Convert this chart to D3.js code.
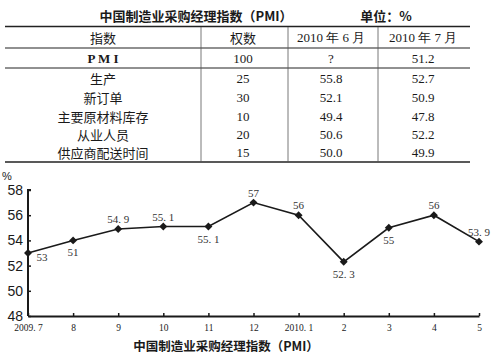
<!DOCTYPE html>
<html><head><meta charset="utf-8">
<script src="https://cdn.jsdelivr.net/npm/d3@7/dist/d3.min.js"></script>
<style>
body{margin:0;background:#fff;}
svg{display:block;}
</style></head>
<body><svg id="c" width="495" height="355"></svg>
<script>
// ---- table data ----
const tableTitle = "中国制造业采购经理指数（PMI）";
const tableUnit = "单位：%";
const tableHeader = ["指数", "权数", "2010 年 6 月", "2010 年 7 月"];
const indexNames = ["P M I", "生产", "新订单", "主要原材料库存", "从业人员", "供应商配送时间"];
const weights = ["100", "25", "30", "10", "20", "15"];
const june2010 = ["?", "55.8", "52.1", "49.4", "50.6", "50.0"];
const july2010 = ["51.2", "52.7", "50.9", "47.8", "52.2", "49.9"];

// ---- chart data ----
const months = ["2009. 7", "8", "9", "10", "11", "12", "2010. 1", "2", "3", "4", "5"];
const pmiValues = [53, 54, 54.9, 55.1, 55.1, 57, 56, 52.3, 55, 56, 53.9];
const pointLabels = ["53", "51", "54. 9", "55. 1", "55. 1", "57", "56", "52. 3", "55", "56", "53. 9"];
const labelSide = ["right", "below", "above", "above", "below", "above", "above", "below", "below", "above", "above"];
const yTicks = [48, 50, 52, 54, 56, 58];
const chartTitle = "中国制造业采购经理指数（PMI）";

const svg = d3.select("#c");
const cjk = "'Noto Sans CJK SC', sans-serif";
const serif = "'Liberation Serif', 'DejaVu Serif', serif";
const ink = "#1a1a1a";

// ===== TABLE =====
svg.append("text").attr("x", 196).attr("y", 15).attr("text-anchor", "middle")
  .attr("dominant-baseline", "central").attr("font-family", cjk).attr("font-weight", "bold")
  .attr("font-size", 13).attr("fill", ink).text(tableTitle);
svg.append("text").attr("x", 386).attr("y", 15).attr("text-anchor", "middle")
  .attr("dominant-baseline", "central").attr("font-family", cjk).attr("font-weight", "bold")
  .attr("font-size", 13).attr("fill", ink).text(tableUnit);

const colCenters = [103, 243, 331, 423];
const colDividers = [201, 288, 378];
const tl = svg.append("g").attr("stroke", "#222");
tl.append("line").attr("x1", 5).attr("x2", 470).attr("y1", 26.5).attr("y2", 26.5).attr("stroke-width", 1.6);
tl.append("line").attr("x1", 5).attr("x2", 470).attr("y1", 48).attr("y2", 48).attr("stroke-width", 1.2);
tl.append("line").attr("x1", 5).attr("x2", 470).attr("y1", 68).attr("y2", 68).attr("stroke-width", 1);
tl.append("line").attr("x1", 5).attr("x2", 470).attr("y1", 162).attr("y2", 162).attr("stroke-width", 1.6);
colDividers.forEach(x => tl.append("line").attr("x1", x).attr("x2", x).attr("y1", 27).attr("y2", 162).attr("stroke-width", 0.8).attr("stroke", "#555"));

tableHeader.forEach((h, i) => {
  svg.append("text").attr("x", colCenters[i]).attr("y", 37).attr("text-anchor", "middle")
    .attr("dominant-baseline", "central").attr("font-family", i < 2 ? cjk : serif)
    .attr("font-size", 13).attr("fill", ink).text(h);
});
const rowCenters = [58, 78, 97, 116, 134, 152];
indexNames.forEach((n, r) => {
  const cells = [n, weights[r], june2010[r], july2010[r]];
  cells.forEach((c, i) => {
    svg.append("text").attr("x", colCenters[i]).attr("y", rowCenters[r]).attr("text-anchor", "middle")
      .attr("dominant-baseline", "central")
      .attr("font-family", (i === 0 && r > 0) ? cjk : serif)
      .attr("font-weight", (i === 0 && r === 0) ? "bold" : "normal")
      .attr("font-size", 13).attr("fill", ink).text(c);
  });
});

// ===== LINE CHART =====
const x = d3.scalePoint().domain(months).range([28, 479]);
const y = d3.scaleLinear().domain([48, 58]).range([316, 190]);

const yAxis = d3.axisLeft(y).tickValues(yTicks).tickSize(-3).tickPadding(7).tickFormat(d3.format("d"));
const gy = svg.append("g").attr("transform", "translate(28,0)").call(yAxis);
gy.select(".domain").attr("stroke", ink).attr("stroke-width", 2).attr("d", "M3,190H0V316");
gy.selectAll(".tick line").attr("stroke", ink).attr("stroke-width", 1.5);
gy.selectAll(".tick text").attr("font-family", "'Liberation Sans', Arial, sans-serif")
  .attr("font-size", 14).attr("fill", ink).attr("x", -5);

const xAxis = d3.axisBottom(x).tickSize(-3).tickPadding(0).tickSizeOuter(0);
const gx = svg.append("g").attr("transform", "translate(0,316)").call(xAxis);
gx.select(".domain").attr("stroke", ink).attr("stroke-width", 2);
gx.selectAll(".tick line").attr("stroke", ink).attr("stroke-width", 1.5);
gx.selectAll(".tick text").attr("font-family", serif).attr("font-size", 9.5).attr("fill", ink)
  .attr("y", 8);

svg.append("text").attr("x", 2).attr("y", 180).attr("font-family", "'Liberation Sans', sans-serif")
  .attr("font-size", 11).attr("fill", ink).text("%");

const line = d3.line().x((d, i) => x(months[i])).y(d => y(d));
svg.append("path").datum(pmiValues).attr("d", line).attr("fill", "none")
  .attr("stroke", ink).attr("stroke-width", 1.6);

const sym = d3.symbol().type(d3.symbolDiamond2).size(40);
svg.selectAll(".pt").data(pmiValues).join("path").attr("class", "pt")
  .attr("transform", (d, i) => `translate(${x(months[i])},${y(d)})`)
  .attr("d", sym).attr("fill", ink);

svg.selectAll(".lbl").data(pmiValues).join("text").attr("class", "lbl")
  .attr("x", (d, i) => x(months[i]) + (labelSide[i] === "right" ? 14 : 0))
  .attr("y", (d, i) => y(d) + (labelSide[i] === "above" ? -10 : labelSide[i] === "below" ? 12 : 4))
  .attr("text-anchor", "middle").attr("dominant-baseline", "central")
  .attr("font-family", serif).attr("font-size", 11).attr("fill", "#333")
  .text((d, i) => pointLabels[i]);

svg.append("text").attr("x", 226).attr("y", 345).attr("text-anchor", "middle")
  .attr("dominant-baseline", "central").attr("font-family", cjk).attr("font-weight", "bold")
  .attr("font-size", 12.5).attr("fill", ink).text(chartTitle);
</script></body></html>
